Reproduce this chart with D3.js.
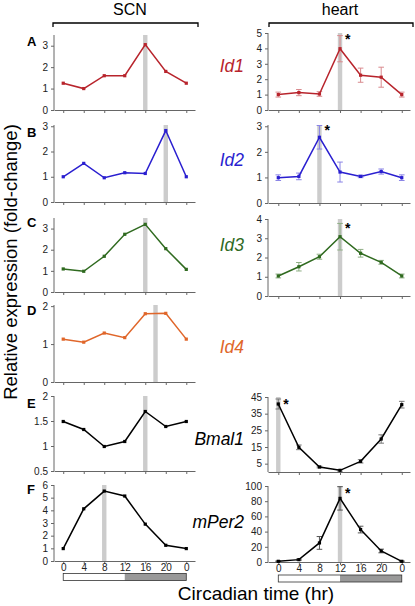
<!DOCTYPE html>
<html><head><meta charset="utf-8">
<script src="https://cdn.jsdelivr.net/npm/d3@7"></script>
<style>html,body{margin:0;padding:0;background:#fff}svg{display:block}</style>
</head><body>
<script>
// ---- data ----
const ct = [0, 4, 8, 12, 16, 20, 24];
const ctLabels = ["0", "4", "8", "12", "16", "20", "0"];
const genes = ["Id1", "Id2", "Id3", "Id4", "Bmal1", "mPer2"];
const panelLetters = ["A", "B", "C", "D", "E", "F"];

const scnId1 = [1.25, 1.0, 1.6, 1.6, 3.05, 1.8, 1.25];
const scnId2 = [1.0, 1.53, 0.96, 1.16, 1.13, 2.83, 1.0];
const scnId3 = [1.09, 0.98, 1.69, 2.73, 3.2, 2.05, 1.07];
const scnId4 = [1.13, 1.05, 1.29, 1.17, 1.8, 1.81, 1.13];
const scnBmal1 = [1.49, 1.33, 0.99, 1.09, 1.69, 1.39, 1.49];
const scnPer2 = [0.98, 4.12, 5.52, 5.13, 2.91, 1.24, 0.98];

const heartId1 = [1.0, 1.13, 1.04, 3.98, 2.26, 2.13, 1.0];
const heartId1Err = [0.16, 0.2, 0.15, 0.85, 0.46, 0.65, 0.16];
const heartId2 = [0.99, 1.04, 2.57, 1.21, 1.04, 1.23, 0.99];
const heartId2Err = [0.11, 0.13, 0.46, 0.39, 0.05, 0.1, 0.11];
const heartId3 = [1.04, 1.52, 2.04, 3.08, 2.22, 1.75, 1.04];
const heartId3Err = [0.1, 0.22, 0.13, 0.69, 0.2, 0.1, 0.1];
const heartBmal1 = [40.8, 14.8, 3.0, 1.0, 6.4, 19.8, 40.4];
const heartBmal1Err = [3, 1.4, 0.5, 0.5, 1, 2.5, 2];
const heartPer2 = [0.9, 3.1, 25.1, 83.7, 42.7, 14.5, 0.9];
const heartPer2Err = [0.5, 0.8, 8.4, 15.4, 4.4, 2.4, 0.5];

const scnPeak = [16, 20, 16, 18, 16, 8];
const heartPeak = [12, 8, 12, null, 0, 12];

const scnTicks = [[0,1,2,3],[0,1,2,3],[0,1,2,3],[0,1,2],[0.5,1,1.5,2],[0,1,2,3,4,5,6]];
const heartTicks = [[0,1,2,3,4,5],[0,1,2,3],[0,1,2,3,4],null,[5,15,25,35,45],[0,20,40,60,80,100]];
const tickFmt = [d3.format("d"), d3.format("d"), d3.format("d"), d3.format("d"), d3.format(""), d3.format("d")];

// ---- layout ----
const W = 415, H = 606;
const svg = d3.select("body").append("svg").attr("width", W).attr("height", H)
  .style("font-family", "'Liberation Sans', Arial, Helvetica, sans-serif");

const colors = ["#b8242c", "#2a1fd0", "#2f6a1f", "#e0662a", "#000000", "#000000"];
const errColors = ["#d98a8e", "#8a84e6", "#8fae85", "#eea37f", "#777", "#555"];
const axisColor = "#666";

const xL = d3.scaleLinear().domain([-1.8, 25.7]).range([54, 195]);
const xR = d3.scaleLinear().domain([-2, 25.6]).range([268, 410]);

const scnData = [scnId1, scnId2, scnId3, scnId4, scnBmal1, scnPer2];
const heartData = [heartId1, heartId2, heartId3, null, heartBmal1, heartPer2];
const heartErr = [heartId1Err, heartId2Err, heartId3Err, null, heartBmal1Err, heartPer2Err];

const yL = [
  d3.scaleLinear().domain([0, 3.5]).range([110, 35]),
  d3.scaleLinear().domain([0, 3.05]).range([202, 125]),
  d3.scaleLinear().domain([0, 3.5]).range([292, 218]),
  d3.scaleLinear().domain([0, 2.03]).range([382, 305]),
  d3.scaleLinear().domain([0.5, 2]).range([471, 396]),
  d3.scaleLinear().domain([0, 6]).range([561, 485])
];
const yR = [
  d3.scaleLinear().domain([0, 5]).range([110, 33]),
  d3.scaleLinear().domain([0, 3.05]).range([203, 125]),
  d3.scaleLinear().domain([0, 4]).range([296, 219]),
  null,
  d3.scaleLinear().domain([0, 45]).range([472, 397]),
  d3.scaleLinear().domain([0, 100]).range([562, 486])
];

const letterY = [46, 137, 227, 315, 408, 494];
const geneY = [72, 166, 251, 353, 445, 528];
const starPos = [[12, 4.85], [8, 3.0], [12, 3.75], null, [0, 43], [12, 96]];

function drawPanel(x, y, ticks, fmt, data, err, color, errColor, peak, showXLabels) {
  const g = svg.append("g");
  const [y0, y1] = y.range();
  if (peak !== null) {
    g.append("rect").attr("x", x(peak) - 2.2).attr("width", 4.4)
      .attr("y", y1).attr("height", y0 - y1).attr("fill", "#cccccc");
  }
  const ya = g.append("g").attr("transform", `translate(${x.range()[0]},0)`)
    .call(d3.axisLeft(y).tickValues(ticks).tickFormat(fmt).tickSize(3).tickPadding(3).tickSizeOuter(0));
  ya.select(".domain").attr("stroke", axisColor).attr("d", `M0,${y0}V${y1}`);
  ya.selectAll(".tick line").attr("stroke", axisColor);
  ya.selectAll("text").attr("font-size", 10).attr("fill", "#222")
    .attr("font-family", "'Liberation Sans', Arial, sans-serif");
  const xa = g.append("g").attr("transform", `translate(0,${y0})`)
    .call(d3.axisBottom(x).tickValues(ct).tickSize(3).tickPadding(1).tickSizeOuter(0)
      .tickFormat((d, i) => showXLabels ? ctLabels[i] : ""));
  xa.select(".domain").attr("stroke", axisColor);
  xa.selectAll(".tick line").attr("stroke", axisColor);
  xa.selectAll("text").attr("font-size", 10).attr("fill", "#222").attr("dy", "0.62em")
    .attr("font-family", "'Liberation Sans', Arial, sans-serif");
  if (err) {
    const eb = g.append("g").attr("stroke", errColor).attr("stroke-width", 1);
    data.forEach((v, i) => {
      const cx = x(ct[i]);
      const t = y(v + err[i]), b = y(Math.max(v - err[i], y.domain()[0]));
      eb.append("line").attr("x1", cx).attr("x2", cx).attr("y1", t).attr("y2", b);
      eb.append("line").attr("x1", cx - 2.8).attr("x2", cx + 2.8).attr("y1", t).attr("y2", t);
      eb.append("line").attr("x1", cx - 2.8).attr("x2", cx + 2.8).attr("y1", b).attr("y2", b);
    });
  }
  const line = d3.line().x((d, i) => x(ct[i])).y(d => y(d));
  g.append("path").datum(data).attr("d", line).attr("fill", "none")
    .attr("stroke", color).attr("stroke-width", 1.5);
  g.selectAll(".pt").data(data).enter().append("rect")
    .attr("x", (d, i) => x(ct[i]) - 1.6).attr("y", d => y(d) - 1.6)
    .attr("width", 3.2).attr("height", 3.2).attr("fill", color);
  return g;
}

for (let r = 0; r < 6; r++) {
  drawPanel(xL, yL[r], scnTicks[r], tickFmt[r], scnData[r], null, colors[r], errColors[r], scnPeak[r], r === 5);
  if (heartData[r]) {
    drawPanel(xR, yR[r], heartTicks[r], tickFmt[r], heartData[r], heartErr[r], colors[r], errColors[r], heartPeak[r], r === 5);
    const sp = starPos[r];
    svg.append("text").attr("x", xR(sp[0]) + 5).attr("y", yR[r](sp[1]) + 9)
      .attr("font-size", 14).attr("font-weight", "bold").attr("fill", "#000").text("*");
  }
  svg.append("text").attr("x", 27).attr("y", letterY[r]).attr("font-size", 13)
    .attr("font-weight", "bold").attr("fill", "#000").text(panelLetters[r]);
  svg.append("text").attr("x", 244).attr("y", geneY[r]).attr("text-anchor", "end")
    .attr("font-size", 17.5).attr("font-style", "italic").attr("fill", colors[r]).text(genes[r]);
}

function bracket(x0, x1, label, cx) {
  svg.append("path").attr("d", `M${x0},27V23H${x1}V27`).attr("fill", "none")
    .attr("stroke", "#000").attr("stroke-width", 1.3);
  svg.append("text").attr("x", cx).attr("y", 15).attr("text-anchor", "middle")
    .attr("font-size", 16).attr("fill", "#000").text(label);
}
bracket(53, 198, "SCN", 130);
bracket(269, 413, "heart", 340);

function ldBar(x, y) {
  svg.append("rect").attr("x", x(0)).attr("y", y).attr("width", x(12) - x(0)).attr("height", 7)
    .attr("fill", "#fff");
  svg.append("rect").attr("x", x(12)).attr("y", y).attr("width", x(24) - x(12)).attr("height", 7)
    .attr("fill", "#999");
  svg.append("rect").attr("x", x(0)).attr("y", y).attr("width", x(24) - x(0)).attr("height", 7)
    .attr("fill", "none").attr("stroke", "#333").attr("stroke-width", 0.8);
}
ldBar(xL, 573.5);
ldBar(xR, 575);

svg.append("text").attr("x", 256).attr("y", 600).attr("text-anchor", "middle")
  .attr("font-size", 19).attr("fill", "#000").text("Circadian time (hr)");
svg.append("text").attr("transform", "translate(17,262) rotate(-90)").attr("text-anchor", "middle")
  .attr("font-size", 18.5).attr("fill", "#000").text("Relative expression (fold-change)");
</script>
</body></html>
